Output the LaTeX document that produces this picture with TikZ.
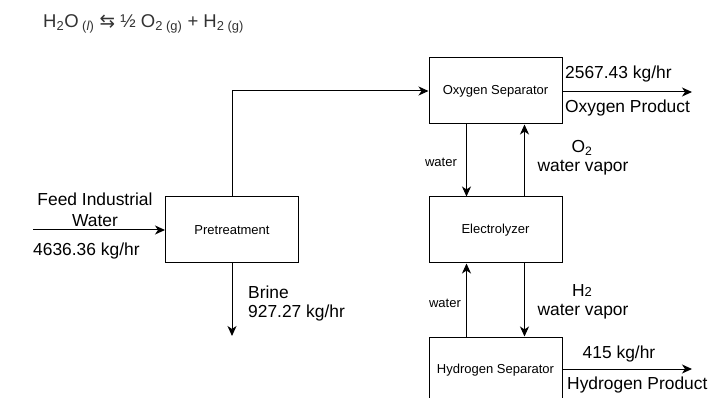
\documentclass[tikz,border=0pt]{standalone}
\usepackage{fontspec}
\setmainfont{Liberation Sans}
\newfontfamily\simboli{DejaVu Sans}
\usetikzlibrary{arrows.meta}

\begin{document}
\begin{tikzpicture}[x=1pt, y=-1pt,
	blocco/.style={draw, line width=1pt, minimum width=133pt, minimum height=66pt, inner sep=0pt, font=\fontsize{13}{15}\selectfont},
	freccia/.style={-{Stealth[length=10pt, width=9pt, inset=3pt]}, line width=1pt},
	etichetta/.style={font=\fontsize{17.4}{21}\selectfont, inner sep=0pt},
	piccola/.style={font=\fontsize{13}{15}\selectfont, inner sep=0pt}]
			\useasboundingbox (0,0) rectangle (710,398);
			\clip (0,0) rectangle (710,398);
			
			% Reazione
			\node[etichetta, anchor=west, text=black!80, font=\fontsize{18.5}{22}\selectfont] (reaz) at (43,24) {H\textsubscript{2}O\textsubscript{\ (\textit{l})}\ {\simboli ⇆}\ ½ O\textsubscript{2 (g)} + H\textsubscript{2 (g)}};
			
			% Blocchi del processo
			\node[blocco] (pre) at (232,230) {Pretreatment};
			\node[blocco] (osep) at (495.5,91) {Oxygen Separator};
			\node[blocco] (elet) at (495.5,230) {Electrolyzer};
			\node[blocco] (hsep) at (495.5,370) {Hydrogen Separator};
			
			% Estremi liberi
			\coordinate (feed) at (33,230);
			\coordinate (brine) at (232,336);
			\coordinate (oprod) at (692,92);
			\coordinate (hprod) at (692,369);
			
			% Correnti
			\draw[freccia] (feed) -- (pre.west);
			\draw[freccia] (pre.south) -- (brine);
			\draw[freccia] (pre.north) |- (osep.west);
			\draw[freccia] (osep.east |- oprod) -- (oprod);
			\draw[freccia] ([xshift=-29pt]osep.south) -- ([xshift=-29pt]elet.north);
			\draw[freccia] ([xshift=29pt]elet.north) -- ([xshift=29pt]osep.south);
			\draw[freccia] ([xshift=29pt]elet.south) -- ([xshift=29pt]hsep.north);
			\draw[freccia] ([xshift=-29pt]hsep.north) -- ([xshift=-29pt]elet.south);
			\draw[freccia] (hsep.east |- hprod) -- (hprod);
			
			% Etichette
			\node[etichetta, align=center] (lfeed) at (95,209.5) {Feed Industrial\\Water};
			\node[etichetta, anchor=west] (mfeed) at (33,251) {4636.36 kg/hr};
			\node[etichetta, anchor=west] (lbrine) at (248,292) {Brine};
			\node[etichetta, anchor=west] (mbrine) at (248,313) {927.27 kg/hr};
			\node[etichetta, anchor=west] (moprod) at (565,74) {2567.43 kg/hr};
			\node[etichetta, anchor=west] (loprod) at (565,108) {Oxygen Product};
			\node[piccola] (acqua1) at (441,162) {water};
			\node[etichetta] (ossi) at (582,148) {O\textsubscript{2}};
			\node[etichetta] (vap1) at (583,168) {water vapor};
			\node[piccola] (acqua2) at (445,303) {water};
			\node[etichetta] (idro) at (582,291) {H{\fontsize{13}{13}\selectfont 2}};
			\node[etichetta] (vap2) at (583,312) {water vapor};
			\node[etichetta] (mhprod) at (619,354) {415 kg/hr};
			\node[etichetta, anchor=west] (lhprod) at (567,385) {Hydrogen Product};
		\end{tikzpicture}
\end{document}
